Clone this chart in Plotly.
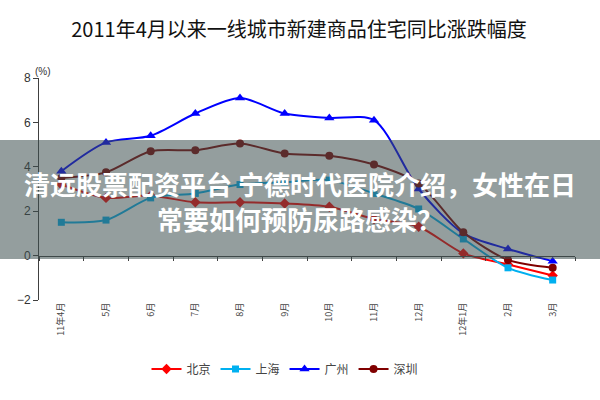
import plotly.graph_objects as go

months = ["11年4月", "5月", "6月", "7月", "8月", "9月", "10月", "11月", "12月", "12年1月", "2月", "3月"]
beijing = [3.2, 2.6, 2.7, 2.4, 2.4, 2.35, 2.2, 1.65, 1.3, 0.1, -0.4, -0.9]
shanghai = [1.5, 1.6, 2.6, 2.8, 3.2, 3.3, 3.4, 2.8, 2.1, 0.75, -0.55, -1.1]
guangzhou = [3.8, 5.1, 5.4, 6.4, 7.1, 6.4, 6.2, 6.1, 3.0, 1.0, 0.3, -0.25]
shenzhen = [3.5, 3.75, 4.7, 4.75, 5.05, 4.6, 4.5, 4.1, 3.25, 1.05, -0.2, -0.55]

series = [
    ("北京", beijing, "#ff0000", "diamond", 8),
    ("上海", shanghai, "#00b0f0", "square", 7),
    ("广州", guangzhou, "#0000ff", "triangle-up", 9),
    ("深圳", shenzhen, "#800000", "circle", 8),
]

W, H = 600, 400
ML, MR, MT, MB = 39, 25, 78, 100
PW, PH = W - ML - MR, H - MT - MB


def px(x):
    return (x - ML) / PW


def py(y):
    return (H - MB - y) / PH


idx = list(range(len(months)))
fig = go.Figure()
for name, vals, color, sym, size in series:
    fig.add_trace(go.Scatter(
        x=idx, y=vals, name=name, mode="lines+markers",
        line=dict(color=color, width=2, shape="spline", smoothing=0.8),
        marker=dict(symbol=sym, size=size, color=color),
    ))

# helper axis drawn along the zero line with category-boundary ticks
fig.add_trace(go.Scatter(x=[None], y=[None], xaxis="x2", showlegend=False, hoverinfo="skip"))

ymin, ymax = -2, 8
fig.update_layout(
    width=W, height=H,
    margin=dict(l=ML, r=MR, t=MT, b=MB, autoexpand=False),
    paper_bgcolor="white", plot_bgcolor="white",
    font=dict(family="Noto Sans CJK SC, Arial", color="#333333"),
    title=dict(text="2011年4月以来一线城市新建商品住宅同比涨跌幅度",
               x=px(299), xanchor="center", xref="paper", y=1 - 30 / H, yanchor="middle",
               font=dict(size=20, color="#111111", family="Noto Sans CJK SC")),
    showlegend=True,
    legend=dict(orientation="h", x=px(285), xanchor="center", y=py(369), yanchor="middle",
                font=dict(size=12, color="#444444", family="Noto Sans CJK SC"),
                itemwidth=30, tracegroupgap=0, bgcolor="rgba(0,0,0,0)"),
    xaxis=dict(range=[-0.5, len(months) - 0.5], tickvals=idx, ticktext=months,
               tickangle=-90, showline=False, showgrid=False, zeroline=False, ticks="",
               tickfont=dict(size=9, color="#444444", family="Noto Sans CJK SC")),
    xaxis2=dict(range=[-0.5, len(months) - 0.5], overlaying="x", anchor="free",
                position=(0 - ymin) / (ymax - ymin), side="bottom",
                tickvals=[i - 0.5 for i in range(len(months) + 1)],
                ticks="outside", ticklen=4, tickcolor="#404040",
                showline=True, linecolor="#404040", linewidth=1,
                showticklabels=False, showgrid=False, zeroline=False),
    yaxis=dict(range=[ymin, ymax], tickvals=[-2, 0, 2, 4, 6, 8], ticks="outside", ticklen=5,
               tickcolor="#404040", showline=True, linecolor="#404040", linewidth=1,
               showgrid=False, zeroline=False,
               tickfont=dict(size=12, color="#333333", family="Arial")),
)

fig.add_annotation(text="(%)", xref="paper", yref="paper", x=px(33), y=py(64),
                   showarrow=False, font=dict(size=10, color="#333333", family="Arial"))

# watermark banner overlay
fig.add_shape(type="rect", xref="paper", yref="paper", x0=px(0), x1=px(W), y0=py(259), y1=py(140),
              fillcolor="rgba(60,78,78,0.55)", line=dict(width=0), layer="above")
fig.add_annotation(text="<b>清远股票配资平台 宁德时代医院介绍，女性在日</b>", xref="paper", yref="paper",
                   x=px(300), y=py(183), showarrow=False,
                   font=dict(size=26, color="white", family="Noto Sans CJK SC"))
fig.add_annotation(text="<b>常要如何预防尿路感染？</b>", xref="paper", yref="paper",
                   x=px(300), y=py(218), showarrow=False,
                   font=dict(size=26, color="white", family="Noto Sans CJK SC"))

fig.write_html("out.html", config={"displayModeBar": False},
               post_script="document.body.style.margin='0';")
